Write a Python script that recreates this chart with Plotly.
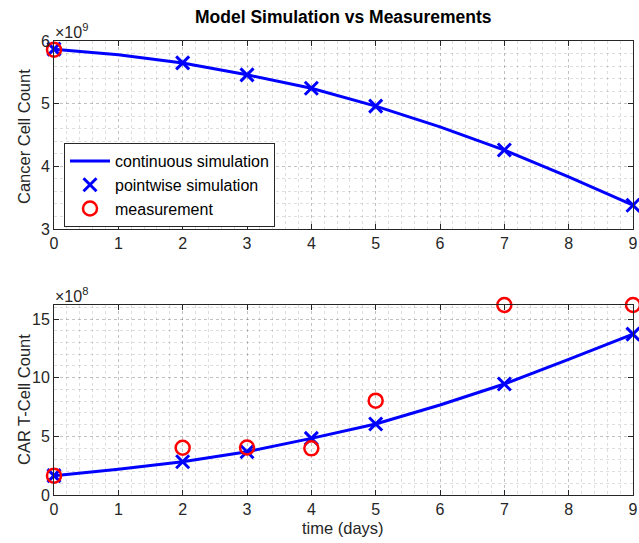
import plotly.graph_objects as go

# ---- data ----
t_cont = [0, 1, 2, 3, 4, 5, 6, 7, 8, 9]
cancer_cont = [5.87e9, 5.78e9, 5.65e9, 5.46e9, 5.245e9, 4.96e9, 4.63e9, 4.26e9, 3.83e9, 3.38e9]
cart_cont = [1.65e8, 2.2e8, 2.84e8, 3.69e8, 4.83e8, 6.05e8, 7.67e8, 9.46e8, 11.56e8, 13.72e8]

t_pts = [0, 2, 3, 4, 5, 7, 9]
cancer_pts = [5.87e9, 5.65e9, 5.46e9, 5.245e9, 4.96e9, 4.26e9, 3.38e9]
cart_pts = [1.65e8, 2.84e8, 3.69e8, 4.83e8, 6.05e8, 9.46e8, 13.72e8]

t_meas_cancer = [0]
cancer_meas = [5.86e9]
t_meas_cart = [0, 2, 3, 4, 5, 7, 9]
cart_meas = [1.65e8, 4.03e8, 4.05e8, 3.98e8, 8.04e8, 16.2e8, 16.2e8]

x_ticks = [0, 1, 2, 3, 4, 5, 6, 7, 8, 9]
cancer_ticks = [3e9, 4e9, 5e9, 6e9]
cancer_ticktext = ["3", "4", "5", "6"]
cart_ticks = [0, 5e8, 10e8, 15e8]
cart_ticktext = ["0", "5", "10", "15"]

BLUE = "#0000FF"
RED = "#FF0000"
AX = "#262626"
GRID = "rgba(0,0,0,0.13)"
FONT = "Liberation Sans, Arial, Helvetica, sans-serif"
TICKSIZE = 16

W, H = 639, 543


def px(x):
    return x / W


def py(y):
    return 1 - y / H


fig = go.Figure()

# top panel
fig.add_trace(go.Scatter(x=t_cont, y=cancer_cont, mode="lines", line=dict(color=BLUE, width=3),
                         name="continuous simulation", xaxis="x", yaxis="y", cliponaxis=False))
fig.add_trace(go.Scatter(x=t_pts, y=cancer_pts, mode="markers",
                         marker=dict(symbol="x-thin", size=13, color=BLUE, line=dict(color=BLUE, width=3)),
                         name="pointwise simulation", xaxis="x", yaxis="y", cliponaxis=False))
fig.add_trace(go.Scatter(x=t_meas_cancer, y=cancer_meas, mode="markers",
                         marker=dict(symbol="circle-open", size=14, color=RED, line=dict(color=RED, width=2.5)),
                         name="measurement", xaxis="x", yaxis="y", cliponaxis=False))

# bottom panel
fig.add_trace(go.Scatter(x=t_cont, y=cart_cont, mode="lines", line=dict(color=BLUE, width=3),
                         showlegend=False, xaxis="x2", yaxis="y2", cliponaxis=False))
fig.add_trace(go.Scatter(x=t_pts, y=cart_pts, mode="markers",
                         marker=dict(symbol="x-thin", size=13, color=BLUE, line=dict(color=BLUE, width=3)),
                         showlegend=False, xaxis="x2", yaxis="y2", cliponaxis=False))
fig.add_trace(go.Scatter(x=t_meas_cart, y=cart_meas, mode="markers",
                         marker=dict(symbol="circle-open", size=14, color=RED, line=dict(color=RED, width=2.5)),
                         showlegend=False, xaxis="x2", yaxis="y2", cliponaxis=False))

xd = [px(54), px(633)]
top_d = [py(229), py(41)]
bot_d = [py(495), py(305)]

common_x = dict(range=[0, 9], tickvals=x_ticks, ticks="inside", ticklen=5, tickcolor=AX,
                showline=True, linecolor=AX, linewidth=1, mirror="ticks",
                showgrid=True, gridcolor=GRID, griddash="dot", gridwidth=1,
                minor=dict(dtick=0.2, showgrid=True, gridcolor=GRID, griddash="dot", gridwidth=1, ticks=""),
                tickfont=dict(size=TICKSIZE, color=AX, family=FONT), zeroline=False, domain=xd,
                automargin=False)

common_y = dict(ticks="inside", ticklen=5, tickcolor=AX, showline=True, linecolor=AX, linewidth=1,
                mirror="ticks", showgrid=True, gridcolor=GRID, griddash="dot",
                tickfont=dict(size=TICKSIZE, color=AX, family=FONT), zeroline=False, automargin=False)

fig.update_layout(
    width=W, height=H,
    margin=dict(l=0, r=0, t=0, b=0),
    paper_bgcolor="white", plot_bgcolor="white",
    font=dict(family=FONT, color=AX),
    xaxis=dict(common_x, anchor="y"),
    yaxis=dict(common_y, range=[3e9, 6e9], tickvals=cancer_ticks, ticktext=cancer_ticktext, domain=top_d,
               anchor="x", minor=dict(dtick=0.2e9, showgrid=True, gridcolor=GRID, griddash="dot", ticks="")),
    xaxis2=dict(common_x, anchor="y2"),
    yaxis2=dict(common_y, range=[0, 16.2e8], tickvals=cart_ticks, ticktext=cart_ticktext, domain=bot_d,
                anchor="x2", minor=dict(dtick=1e8, showgrid=True, gridcolor=GRID, griddash="dot", ticks="")),
    legend=dict(x=px(64), y=py(185), xanchor="left", yanchor="middle",
                bgcolor="white", bordercolor=AX, borderwidth=1,
                font=dict(size=16, color="black", family=FONT), tracegroupgap=0, itemwidth=40),
    showlegend=True,
)

ann = [
    dict(text="<b>Model Simulation vs Measurements</b>", x=px(343), y=py(17), xref="paper", yref="paper",
         showarrow=False, font=dict(size=17.5, color="black", family=FONT), xanchor="center", yanchor="middle"),
    dict(text="×10<sup>9</sup>", x=px(53), y=py(31), xref="paper", yref="paper", showarrow=False,
         font=dict(size=16, color=AX, family=FONT), xanchor="left", yanchor="middle"),
    dict(text="×10<sup>8</sup>", x=px(53), y=py(295), xref="paper", yref="paper", showarrow=False,
         font=dict(size=16, color=AX, family=FONT), xanchor="left", yanchor="middle"),
    dict(text="Cancer Cell Count", x=px(24), y=py(137), xref="paper", yref="paper", showarrow=False,
         textangle=-90, font=dict(size=16.5, color=AX, family=FONT), xanchor="center", yanchor="middle"),
    dict(text="CAR T-Cell Count", x=px(24), y=py(400), xref="paper", yref="paper", showarrow=False,
         textangle=-90, font=dict(size=16.5, color=AX, family=FONT), xanchor="center", yanchor="middle"),
    dict(text="time (days)", x=px(343), y=py(528), xref="paper", yref="paper", showarrow=False,
         font=dict(size=16.5, color=AX, family=FONT), xanchor="center", yanchor="middle"),
]
fig.update_layout(annotations=ann)

fig.write_html("out.html", config={"displayModeBar": False},
               post_script="document.body.style.margin='0';document.body.style.overflow='hidden';")
